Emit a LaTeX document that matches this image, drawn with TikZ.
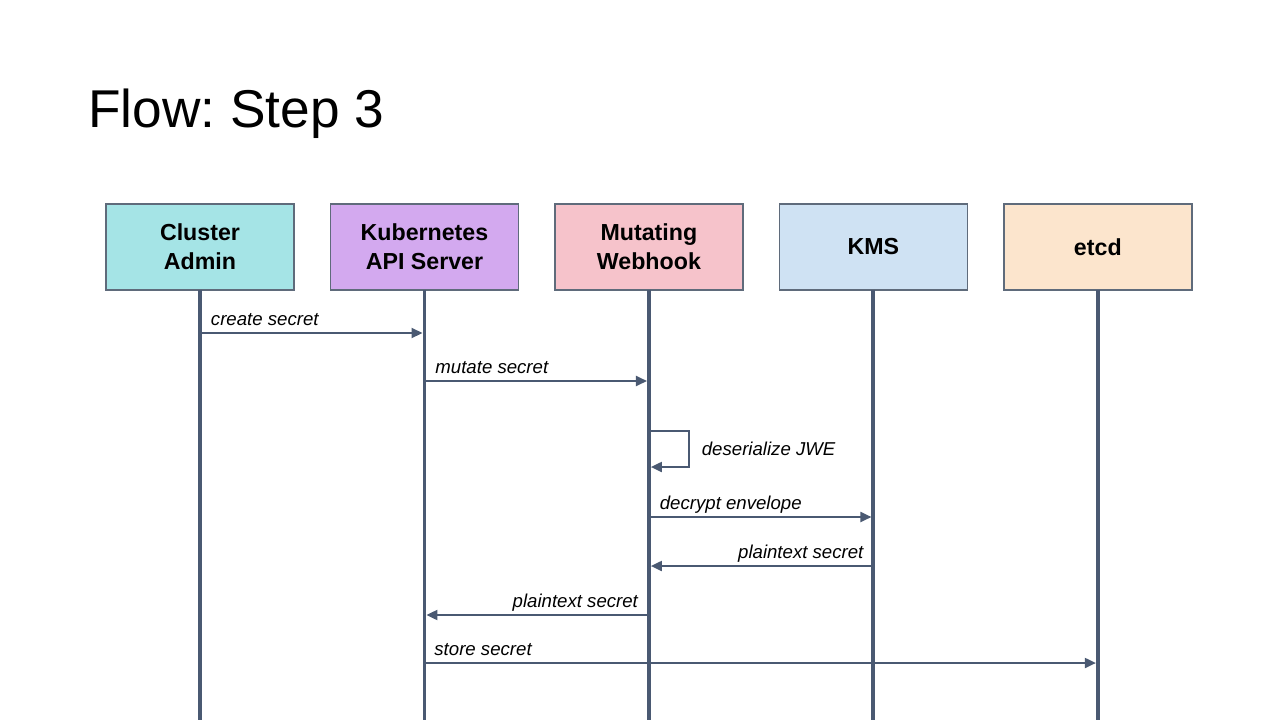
\documentclass[tikz,border=0pt]{standalone}
\usepackage{fontspec}
\setmainfont{Liberation Sans}
\usetikzlibrary{arrows.meta,positioning}
\definecolor{adminfill}{HTML}{A5E4E6}
\definecolor{apifill}{HTML}{D3A9EF}
\definecolor{hookfill}{HTML}{F6C3CB}
\definecolor{kmsfill}{HTML}{CFE2F3}
\definecolor{etcdfill}{HTML}{FCE5CD}
\definecolor{boxline}{HTML}{5F6B7B}
\definecolor{lane}{HTML}{4A5972}
\frenchspacing

\begin{document}
\begin{tikzpicture}[x=0.02cm, y=-0.02cm,
    actor/.style = {draw=boxline, line width=0.8pt, minimum width=3.76cm,
        minimum height=1.72cm, inner sep=0pt, outer sep=0pt, align=center,
        font=\fontsize{13.2}{16.4}\selectfont\bfseries},
    life/.style = {draw=lane, line width=2.2pt},
    msg/.style = {draw=lane, line width=1.1pt, shorten >=1.1pt,
        -{Triangle[length=2.2mm,width=2mm]}},
    lbl/.style = {font=\fontsize{10.6}{12}\selectfont\itshape, inner sep=0pt}]
\useasboundingbox (0,0) rectangle (1280,720);
\node[anchor=base west, inner sep=0pt, font=\fontsize{30.3}{36}\selectfont] (title) at (88,127) {Flow: Step 3};
\begin{scope}[node distance=0mm and 7.3mm]
    \node[actor, fill=adminfill] (admin) at (200,247) {Cluster\\Admin};
\node[actor, fill=apifill, right= of admin] (api) {Kubernetes\\API Server};
\node[actor, fill=hookfill, right= of api] (hook) {Mutating\\Webhook};
\node[actor, fill=kmsfill, right= of hook] (kms) {KMS};
\node[actor, fill=etcdfill, right= of kms] (etcd) {etcd};
\end{scope}
\coordinate (bottom) at (0,720);
\foreach \n in {admin,api,hook,kms,etcd}
    \draw[life] (\n.south) -- (\n |- bottom);
\coordinate (m1) at (0,333);
\coordinate (m2) at (0,381);
\coordinate (m3) at (0,431);
\coordinate (m3b) at (0,467);
\coordinate (m4) at (0,517);
\coordinate (m5) at (0,566);
\coordinate (m6) at (0,615);
\coordinate (m7) at (0,663);
\draw[msg] (admin |- m1) -- (api |- m1)
    node[lbl, pos=0, anchor=base west, xshift=0.2cm, yshift=0.16cm] {create secret};
\draw[msg] (api |- m2) -- (hook |- m2)
    node[lbl, pos=0, anchor=base west, xshift=0.2cm, yshift=0.16cm] {mutate secret};
\draw[msg] (hook |- m3) -- ++(40,0) |- (hook |- m3b)
    node[lbl, pos=0.25, anchor=west, xshift=0.24cm] {deserialize JWE};
\draw[msg] (hook |- m4) -- (kms |- m4)
    node[lbl, pos=0, anchor=base west, xshift=0.2cm, yshift=0.16cm] {decrypt envelope};
\draw[msg] (kms |- m5) -- (hook |- m5)
    node[lbl, pos=0, anchor=base east, xshift=-0.18cm, yshift=0.16cm] {plaintext secret};
\draw[msg] (hook |- m6) -- (api |- m6)
    node[lbl, pos=0, anchor=base east, xshift=-0.2cm, yshift=0.16cm] {plaintext secret};
\draw[msg] (api |- m7) -- (etcd |- m7)
    node[lbl, pos=0, anchor=base west, xshift=0.18cm, yshift=0.16cm] {store secret};
\end{tikzpicture}
\end{document}
